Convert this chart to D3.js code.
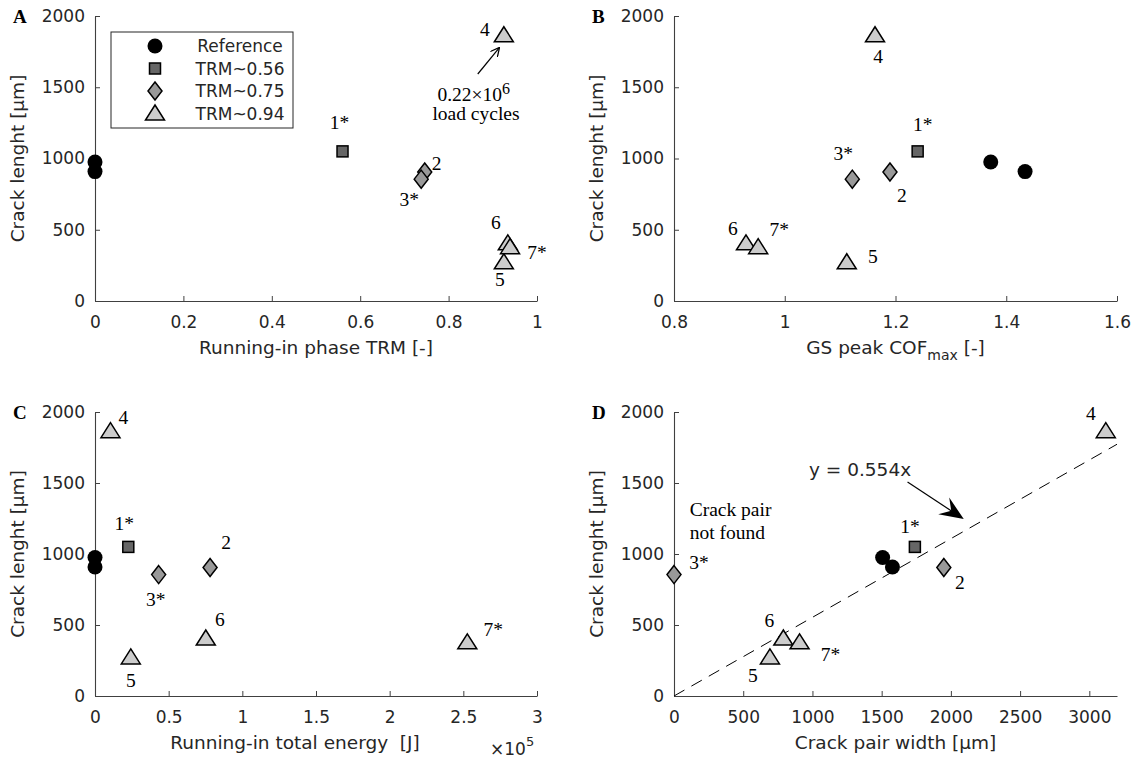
<!DOCTYPE html>
<html>
<head>
<meta charset="utf-8">
<script src="https://cdn.jsdelivr.net/npm/d3@7"></script>
<style>
  body { margin: 0; background: #fff; }
  svg { display: block; }
  .tick-label { font-family: 'DejaVu Sans', sans-serif; font-size: 17px; fill: #262626; }
  .axis-label { font-family: 'DejaVu Sans', sans-serif; font-size: 18.5px; fill: #262626; white-space: pre; }
  .note { font-family: 'Liberation Serif', 'Times New Roman', serif; font-size: 19.5px; fill: #000; }
  .panel-letter { font-family: 'Liberation Serif', serif; font-size: 19px; font-weight: bold; fill: #000; }
</style>
</head>
<body>
<script>
// ---- data (one entry per test case) ----
const caseNames = ['Ref', 'Ref', '1*', '2', '3*', '4', '5', '6', '7*'];
const caseGroups = ['Reference', 'Reference', 'TRM~0.56', 'TRM~0.75', 'TRM~0.75',
    'TRM~0.94', 'TRM~0.94', 'TRM~0.94', 'TRM~0.94'];
const crackLength = [975, 908, 1050, 905, 855, 1865, 272, 405, 378];   // µm
const trm = [0, 0, 0.56, 0.746, 0.738, 0.925, 0.925, 0.934, 0.939];
const cofMax = [1.372, 1.434, 1.24, 1.19, 1.122, 1.163, 1.112, 0.93, 0.952];
const energy = [0, 0, 0.226, 0.781, 0.432, 0.105, 0.243, 0.752, 2.527]; // x10^5 J
const pairWidth = [1507, 1578, 1740, 1949, 0, 3119, 693, 790, 907];    // µm
const fitSlope = 0.554;

const legendGroups = ['Reference', 'TRM~0.56', 'TRM~0.75', 'TRM~0.94'];

// tick labels
const yTicks = [0, 500, 1000, 1500, 2000];
const ticksA = [0, 0.2, 0.4, 0.6, 0.8, 1];
const ticksB = [0.8, 1, 1.2, 1.4, 1.6];
const ticksC = [0, 0.5, 1, 1.5, 2, 2.5, 3];
const ticksD = [0, 500, 1000, 1500, 2000, 2500, 3000];

// label offsets (px from marker centre), null = no label
const offsA = [null, null, [-3, -28], [12, -8], [-12, 21], [-19, -5], [-4, 18], [-12, -20], [27, 6]];
const offsB = [null, null, [5, -26], [12, 24], [-9, -25], [3, 22], [26, -5], [-13, -14], [21, -17]];
const offsC = [null, null, [-4, -23], [16, -24], [-3, 25], [13, -13], [0, 24], [14, -18], [26, -12]];
const offsD = [null, null, [-5, -20], [16, 16], [25, -12], [-15, -17], [-17, 19], [-14, -17], [31, 13]];

const W = 1137, H = 760;
const svg = d3.select('body').append('svg').attr('width', W).attr('height', H);

const groupStyle = {
    'Reference': { shape: 'circle', fill: '#000' },
    'TRM~0.56': { shape: 'square', fill: '#666' },
    'TRM~0.75': { shape: 'diamond', fill: '#999' },
    'TRM~0.94': { shape: 'triangle', fill: '#ccc' }
};

function drawMarker(g, group, x, y) {
    const s = groupStyle[group];
    if (s.shape === 'circle') {
        g.append('circle').attr('cx', x).attr('cy', y).attr('r', 7.5).attr('fill', s.fill);
    } else if (s.shape === 'square') {
        g.append('rect').attr('x', x - 5.5).attr('y', y - 5.5).attr('width', 11).attr('height', 11)
            .attr('fill', s.fill).attr('stroke', '#000').attr('stroke-width', 1.5);
    } else if (s.shape === 'diamond') {
        g.append('path').attr('d', `M${x},${y - 9}L${x + 7},${y}L${x},${y + 9}L${x - 7},${y}Z`)
            .attr('fill', s.fill).attr('stroke', '#000').attr('stroke-width', 1.5);
    } else {
        g.append('path').attr('d', `M${x},${y - 8.5}L${x + 9.5},${y + 6.5}L${x - 9.5},${y + 6.5}Z`)
            .attr('fill', s.fill).attr('stroke', '#000').attr('stroke-width', 1.5);
    }
}

function fmt(d) { return String(+d.toFixed(2)); }

function panel(opt) {
    const g = svg.append('g');
    const x = d3.scaleLinear().domain(opt.xDomain).range([opt.left, opt.left + opt.width]);
    const y = d3.scaleLinear().domain([0, 2000]).range([opt.top + opt.height, opt.top]);

    // axes (ticks inside, box off)
    const xAxis = g.append('g').attr('transform', `translate(0,${opt.top + opt.height})`)
        .call(d3.axisBottom(x).tickValues(opt.xTicks).tickSizeInner(-5).tickSizeOuter(0).tickFormat(fmt));
    const yAxis = g.append('g').attr('transform', `translate(${opt.left},0)`)
        .call(d3.axisLeft(y).tickValues(yTicks).tickSizeInner(-5).tickSizeOuter(0).tickFormat(d3.format('d')));
    [xAxis, yAxis].forEach(a => {
        a.select('.domain').attr('stroke', '#404040').attr('stroke-width', 1.1);
        a.selectAll('.tick line').attr('stroke', '#404040');
        a.selectAll('.tick text').attr('class', 'tick-label').attr('font-size', null).attr('font-family', null);
    });
    xAxis.selectAll('.tick text').attr('y', 15);
    yAxis.selectAll('.tick text').attr('x', -10);

    // x label
    const xl = g.append('text').attr('class', 'axis-label').attr('text-anchor', 'middle')
        .attr('x', opt.left + opt.width / 2).attr('y', opt.top + opt.height + 53);
    opt.xLabel(xl);
    // y label
    g.append('text').attr('class', 'axis-label').attr('text-anchor', 'middle')
        .attr('transform', `translate(${opt.left - 71},${opt.top + opt.height / 2}) rotate(-90)`)
        .text('Crack lenght [µm]');
    // panel letter
    g.append('text').attr('class', 'panel-letter')
        .attr('x', opt.left - 82).attr('y', opt.top + 7).text(opt.letter);

    if (opt.extra) opt.extra(g, x, y);

    // points
    const pts = g.append('g');
    caseNames.forEach((n, i) => {
        drawMarker(pts, caseGroups[i], x(opt.xs[i]), y(crackLength[i]));
    });
    caseNames.forEach((n, i) => {
        const o = opt.offsets[i];
        if (!o) return;
        g.append('text').attr('class', 'note').attr('text-anchor', 'middle')
            .attr('x', x(opt.xs[i]) + o[0]).attr('y', y(crackLength[i]) + o[1] + 6)
            .text(n);
    });
    return { g, x, y };
}

// A
panel({
    letter: 'A', left: 95, top: 16, width: 442, height: 285,
    xDomain: [0, 1], xTicks: ticksA, xs: trm, offsets: offsA,
    xLabel: t => t.text('Running-in phase TRM [-]'),
    extra: (g, x, y) => {
        g.append('defs').append('marker').attr('id', 'vee').attr('viewBox', '0 0 10 10')
            .attr('refX', 9).attr('refY', 5).attr('markerWidth', 9).attr('markerHeight', 9)
            .attr('markerUnits', 'userSpaceOnUse').attr('orient', 'auto')
            .append('path').attr('d', 'M0,0L10,5L0,10').attr('fill', 'none').attr('stroke', '#000').attr('stroke-width', 1.4);
        g.append('line').attr('x1', x(0.866)).attr('y1', y(1593)).attr('x2', x(0.914)).attr('y2', y(1775))
            .attr('stroke', '#000').attr('stroke-width', 1.2).attr('marker-end', 'url(#vee)');
        const t = g.append('text').attr('class', 'note').attr('text-anchor', 'middle')
            .attr('x', x(0.857)).attr('y', y(1405));
        t.append('tspan').text('0.22×10');
        t.append('tspan').attr('dy', -7).attr('font-size', 16).text('6');
        g.append('text').attr('class', 'note').attr('text-anchor', 'middle')
            .attr('x', x(0.862)).attr('y', y(1270)).text('load cycles');

        // legend
        const lg = g.append('g');
        lg.append('rect').attr('x', 111).attr('y', 32).attr('width', 182).attr('height', 96)
            .attr('fill', '#fff').attr('stroke', '#262626').attr('stroke-width', 1);
        legendGroups.forEach((name, i) => {
            const cy = 46 + i * 22.5;
            drawMarker(lg, name, 155, cy);
            lg.append('text').attr('class', 'tick-label').attr('text-anchor', 'middle')
                .attr('x', 240).attr('y', cy + 6).text(name);
        });
    }
});

// B
panel({
    letter: 'B', left: 674, top: 16, width: 443, height: 285,
    xDomain: [0.8, 1.6], xTicks: ticksB, xs: cofMax, offsets: offsB,
    xLabel: t => {
        t.append('tspan').text('GS peak COF');
        t.append('tspan').attr('dy', 6).attr('font-size', 14).text('max');
        t.append('tspan').attr('dy', -6).text(' [-]');
    }
});

// C
panel({
    letter: 'C', left: 95, top: 412, width: 442, height: 284,
    xDomain: [0, 3], xTicks: ticksC, xs: energy, offsets: offsC,
    xLabel: t => t.attr('x', 95 + 200).text('Running-in total energy  [J]'),
    extra: (g, x, y) => {
        const t = g.append('text').attr('class', 'tick-label').attr('x', x(3) - 47).attr('y', 412 + 284 + 59);
        t.append('tspan').text('×10');
        t.append('tspan').attr('dy', -9).attr('font-size', 13).text('5');
    }
});

// D
panel({
    letter: 'D', left: 674, top: 412, width: 443, height: 284,
    xDomain: [0, 3200], xTicks: ticksD, xs: pairWidth, offsets: offsD,
    xLabel: t => t.text('Crack pair width [µm]'),
    extra: (g, x, y) => {
        g.append('line').attr('x1', x(0)).attr('y1', y(0)).attr('x2', x(3200)).attr('y2', y(3200 * fitSlope))
            .attr('stroke', '#000').attr('stroke-width', 1).attr('stroke-dasharray', '12,8');
        g.append('text').attr('class', 'axis-label').attr('text-anchor', 'middle')
            .attr('x', x(1344)).attr('y', y(1591) + 6).text('y = 0.554x');
        // arrow with filled head
        const x1 = x(1687), y1 = y(1507), x2 = x(2093), y2 = y(1246);
        const ang = Math.atan2(y2 - y1, x2 - x1);
        g.append('line').attr('x1', x1).attr('y1', y1).attr('x2', x2 - 12 * Math.cos(ang)).attr('y2', y2 - 12 * Math.sin(ang))
            .attr('stroke', '#000').attr('stroke-width', 1.2);
        const L = 24, wdt = 10, back = 15;
        const tip = [x2, y2];
        const c1 = [x2 - L * Math.cos(ang) - wdt * Math.sin(ang), y2 - L * Math.sin(ang) + wdt * Math.cos(ang)];
        const c2 = [x2 - L * Math.cos(ang) + wdt * Math.sin(ang), y2 - L * Math.sin(ang) - wdt * Math.cos(ang)];
        const notch = [x2 - back * Math.cos(ang), y2 - back * Math.sin(ang)];
        g.append('path').attr('d', 'M' + [tip, c1, notch, c2].map(p => p.join(',')).join('L') + 'Z').attr('fill', '#000');
        g.append('text').attr('class', 'note').attr('x', x(113)).attr('y', y(1268)).text('Crack pair');
        g.append('text').attr('class', 'note').attr('x', x(113)).attr('y', y(1106)).text('not found');
    }
});
</script>
</body>
</html>
